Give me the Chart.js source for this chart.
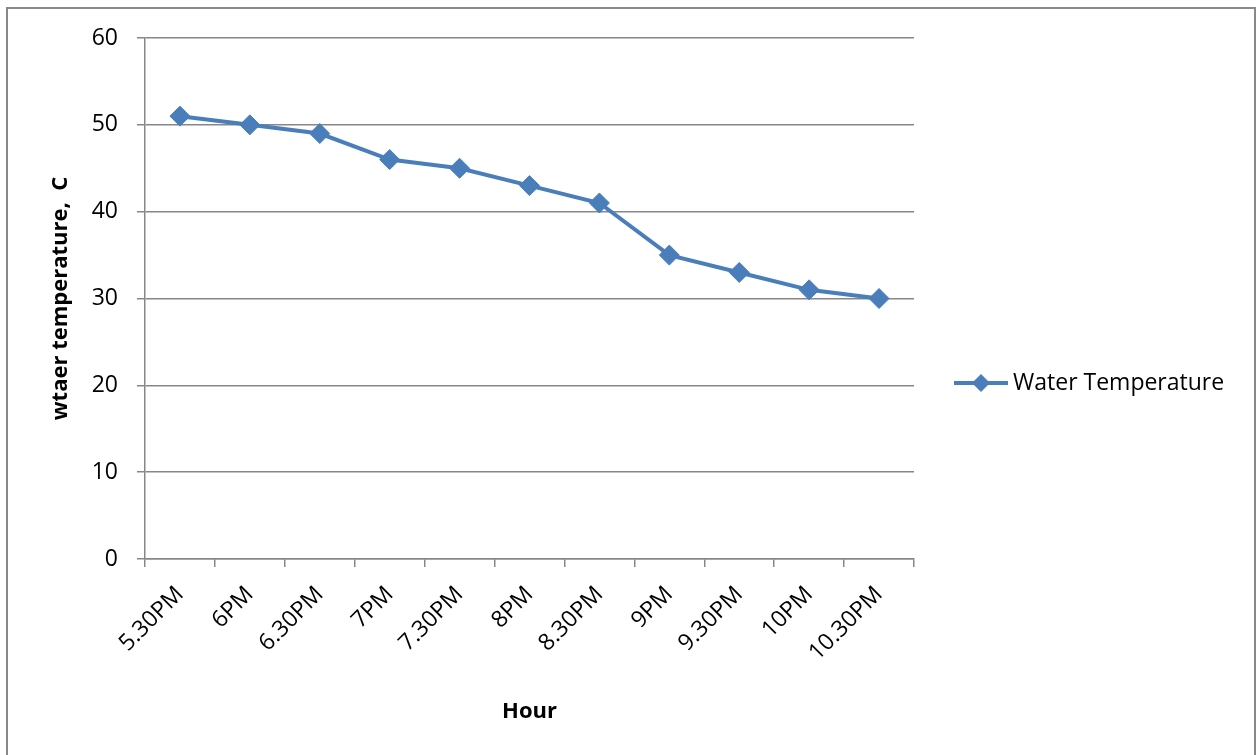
<!DOCTYPE html>
<html>
<head>
<meta charset="utf-8">
<script src="https://cdn.jsdelivr.net/npm/chart.js@4.4.1/dist/chart.umd.min.js"></script>
<style>
  html, body { margin: 0; padding: 0; background: #ffffff; }
  #wrap { width: 1257px; height: 755px; position: relative; }
</style>
</head>
<body>
<div id="wrap"><canvas id="c" width="1257" height="755"></canvas></div>
<script>
const categories = ['5.30PM', '6PM', '6.30PM', '7PM', '7.30PM', '8PM', '8.30PM', '9PM', '9.30PM', '10PM', '10.30PM'];
const waterTemperature = [51, 50, 49, 46, 45, 43, 41, 35, 33, 31, 30];
const seriesName = 'Water Temperature';
const yTitle = 'wtaer temperature,  C';
const xTitle = 'Hour';

const FONT = '"Open Sans", Lato, sans-serif';
const LINE_COLOR = '#4A7EBB';
const GRID_COLOR = '#878787';

const frame = {
  id: 'frame',
  beforeDraw(chart) {
    const ctx = chart.ctx;
    ctx.save();
    ctx.fillStyle = '#ffffff';
    ctx.fillRect(0, 0, chart.width, chart.height);
    ctx.strokeStyle = '#898989';
    ctx.lineWidth = 2;
    ctx.strokeRect(7, 8, 1248, 800);
    ctx.restore();
  }
};

const legendPlugin = {
  id: 'customLegend',
  afterDraw(chart) {
    const ctx = chart.ctx;
    const y = 383;
    ctx.save();
    ctx.strokeStyle = LINE_COLOR;
    ctx.lineWidth = 4;
    ctx.beginPath();
    ctx.moveTo(954, y);
    ctx.lineTo(1008, y);
    ctx.stroke();
    ctx.fillStyle = LINE_COLOR;
    ctx.beginPath();
    const cx = 981, r = 9;
    ctx.moveTo(cx, y - r);
    ctx.lineTo(cx + r, y);
    ctx.lineTo(cx, y + r);
    ctx.lineTo(cx - r, y);
    ctx.closePath();
    ctx.fill();
    ctx.fillStyle = '#000000';
    ctx.font = '23px ' + FONT;
    ctx.textAlign = 'left';
    ctx.textBaseline = 'middle';
    ctx.fillText(seriesName, 1013, y);
    ctx.restore();
  }
};

new Chart(document.getElementById('c'), {
  type: 'line',
  data: {
    labels: categories,
    datasets: [{
      label: seriesName,
      data: waterTemperature,
      borderColor: LINE_COLOR,
      backgroundColor: LINE_COLOR,
      borderWidth: 4,
      pointStyle: 'rectRot',
      pointRadius: 10,
      pointHoverRadius: 10,
      pointBorderWidth: 1,
      pointBackgroundColor: LINE_COLOR,
      pointBorderColor: LINE_COLOR,
      tension: 0,
      clip: false
    }]
  },
  options: {
    responsive: false,
    animation: false,
    events: [],
    layout: { padding: { left: 48, right: 343, top: 38, bottom: 30 } },
    plugins: {
      legend: { display: false },
      tooltip: { enabled: false }
    },
    scales: {
      x: {
        offset: true,
        grid: {
          offset: true,
          drawOnChartArea: false,
          drawTicks: true,
          tickLength: 8,
          color: GRID_COLOR,
          lineWidth: 1.5
        },
        border: { display: true, color: GRID_COLOR, width: 1.5 },
        ticks: {
          color: '#000000',
          font: { family: FONT, size: 23 },
          maxRotation: 45,
          minRotation: 45,
          autoSkip: false,
          padding: 14
        },
        title: {
          display: true,
          text: xTitle,
          color: '#000000',
          font: { family: FONT, size: 22, weight: 'bold' },
          padding: 0
        },
        afterFit(scale) { scale.height = 166; }
      },
      y: {
        min: 0,
        max: 60,
        ticks: {
          stepSize: 10,
          color: '#000000',
          font: { family: FONT, size: 23 },
          padding: 19
        },
        grid: {
          color: GRID_COLOR,
          lineWidth: 1.5,
          tickLength: 8,
          drawTicks: true
        },
        border: { display: true, color: GRID_COLOR, width: 1.5 },
        title: {
          display: true,
          text: yTitle,
          color: '#000000',
          font: { family: FONT, size: 22, weight: 'bold' },
          padding: 0
        },
        afterFit(scale) { scale.width = 97; }
      }
    }
  },
  plugins: [frame, legendPlugin]
});
</script>
</body>
</html>
